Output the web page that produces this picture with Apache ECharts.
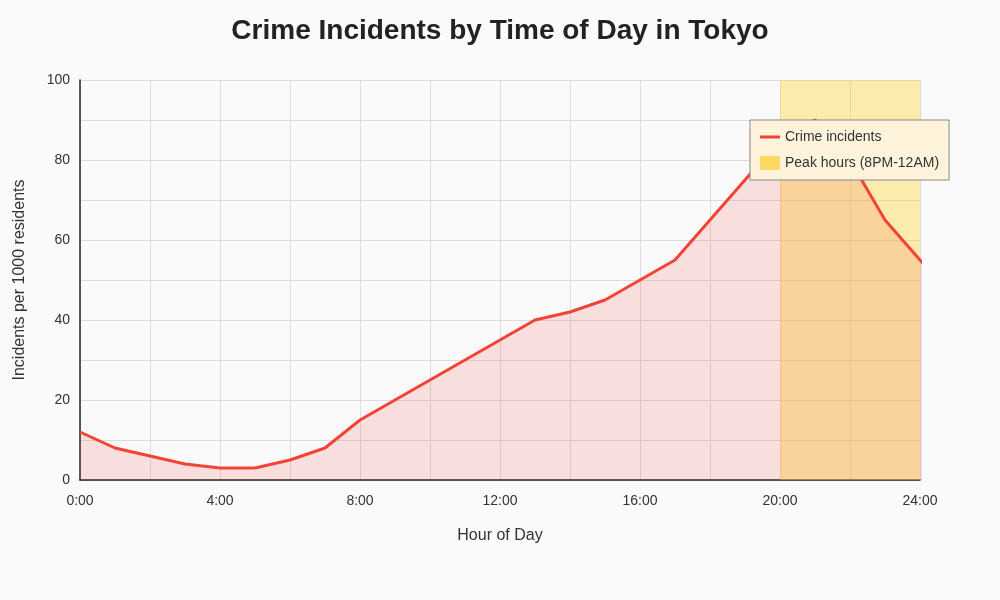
<!DOCTYPE html>
<html>
<head>
<meta charset="utf-8">
<script src="https://cdn.jsdelivr.net/npm/echarts@6/dist/echarts.min.js"></script>
<style>html,body{margin:0;background:#fafafa}#main{width:1000px;height:600px}</style>
</head>
<body>
<div id="main"></div>
<script>
// hour of day, incidents per 1000 residents
var hours = [0, 1, 2, 3, 4, 5, 6, 7, 8, 9, 10, 11, 12, 13, 14, 15, 16, 17, 18, 19, 20, 21, 22, 23, 24, 25, 26, 27];
var incidents = [12, 8, 6, 4, 3, 3, 5, 8, 15, 20, 25, 30, 35, 40, 42, 45, 50, 55, 65, 75, 85, 90, 80, 65, 55, 45, 35, 25];
var peakStart = 20, peakEnd = 24;

var chart = echarts.init(document.getElementById('main'));
var data = hours.map(function (h, i) { return [h, incidents[i]]; });

chart.setOption({
    backgroundColor: '#fafafa',
    textStyle: {fontFamily: 'Liberation Sans, Arial, sans-serif'},
    title: {
        text: 'Crime Incidents by Time of Day in Tokyo',
        left: 'center', top: 12,
        textStyle: {fontSize: 28, fontWeight: 'bold', color: '#222'}
    },
    grid: {left: 80, right: 80, top: 80, bottom: 120},
    legend: {
        orient: 'vertical', left: 750, top: 120, width: 180,
        padding: [10, 10, 10, 10], itemGap: 12,
        backgroundColor: '#fff3dc', borderColor: '#888', borderWidth: 1,
        textStyle: {fontSize: 14, color: '#333'},
        itemWidth: 20, itemHeight: 14,
        data: [
            {name: 'Crime incidents', icon: 'path://M0,6L20,6L20,9L0,9Z', itemStyle: {color: '#f44336'}},
            {name: 'Peak hours (8PM-12AM)', icon: 'rect', itemStyle: {color: '#fdd865'}}
        ]
    },
    xAxis: {
        type: 'value', min: 0, max: 24, interval: 2,
        name: 'Hour of Day', nameLocation: 'middle', nameGap: 48,
        nameTextStyle: {fontSize: 16, color: '#333'},
        axisLine: {lineStyle: {color: '#222', width: 1.5}},
        axisTick: {show: false},
        axisLabel: {
            fontSize: 14, color: '#333', margin: 14,
            formatter: function (v) { return v % 4 === 0 ? v + ':00' : ''; }
        },
        splitLine: {lineStyle: {color: '#ddd'}}
    },
    yAxis: {
        type: 'value', min: 0, max: 100, interval: 10,
        name: 'Incidents per 1000 residents', nameLocation: 'middle', nameGap: 52,
        nameTextStyle: {fontSize: 16, color: '#333'},
        axisLine: {show: true, lineStyle: {color: '#222', width: 1.5}},
        axisTick: {show: false},
        axisLabel: {
            fontSize: 14, color: '#333', margin: 10,
            formatter: function (v) { return v % 20 === 0 ? v : ''; }
        },
        splitLine: {lineStyle: {color: '#ddd'}}
    },
    series: [{
        name: 'Peak hours (8PM-12AM)',
        type: 'line', data: [], z: 1,
        itemStyle: {color: '#fdd865'},
        markArea: {
            silent: true,
            itemStyle: {color: 'rgba(253,216,53,0.4)'},
            data: [[{xAxis: peakStart}, {xAxis: peakEnd}]]
        }
    }, {
        name: 'Crime incidents',
        type: 'line', data: data, clip: false,
        showSymbol: false, z: 3,
        lineStyle: {color: '#f44336', width: 3},
        itemStyle: {color: '#f44336'},
        areaStyle: {color: 'rgba(244,67,54,0.2)'}
    }]
});
</script>
</body>
</html>
